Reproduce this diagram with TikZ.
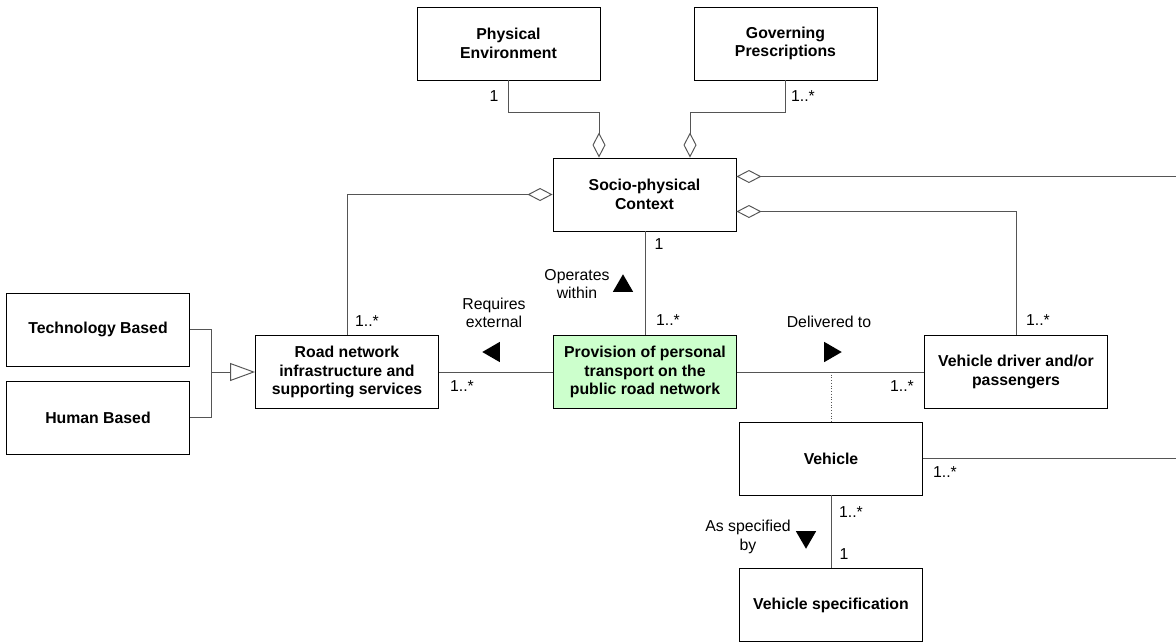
\documentclass[tikz,border=0pt]{standalone}
\usepackage{fontspec}
\setmainfont{Liberation Sans}
\usepackage{xcolor}
\usepackage{tikz}
\usetikzlibrary{shapes, shapes.geometric, arrows.meta, positioning, calc}
\definecolor{provgreen}{RGB}{204, 255, 204}
\definecolor{linegray}{RGB}{85, 85, 85}

\tikzset{
    classbox/.style={draw=black, line width=0.55pt, fill=white, minimum width=3.66cm, minimum height=1.46cm, align=center, inner sep=2pt, font=\fontsize{9}{10.6}\selectfont\bfseries},
    mult/.style={inner sep=1pt, font=\fontsize{9}{10.6}\selectfont},
    rolename/.style={align=center, inner sep=1pt, font=\fontsize{9}{10.4}\selectfont},
    dirmark/.style={regular polygon, regular polygon sides=3, fill=black, minimum size=0.47cm, inner sep=0pt},
    conn/.style={draw=linegray, line width=0.55pt},
    aggr/.style={conn, -{Diamond[length=0.5cm, width=0.26cm, fill=white]}},
    genl/.style={conn, -{Triangle[length=0.5cm, width=0.36cm, fill=white]}}
}

\begin{document}
\begin{tikzpicture}[x=0.02cm, y=-0.02cm]
        \path[use as bounding box, fill=white] (0,0) rectangle (1176,643);

        % Context Boxes
        \node[classbox] (phys) at (508.5,43.5) {Physical\\Environment};
        \node[classbox] (gov) at (785.5,43.5) {Governing\\Prescriptions};
        \node[classbox] (socio) at (644.5,194.5) {Socio-physical\\Context};

        % Infrastructure Boxes
        \node[classbox] (tech) at (98,329.5) {Technology Based};
        \node[classbox] (human) at (98,417.5) {Human Based};
        \node[classbox] (road) at (347,372) {Road network\\infrastructure and\\supporting services};

        % Provision Box
        \node[classbox, fill=provgreen] (prov) at (645,372) {Provision of personal\\transport on the\\public road network};

        % User and Vehicle Boxes
        \node[classbox] (driver) at (1016,372) {Vehicle driver and/or\\passengers};
        \node[classbox] (vehicle) at (831,458.5) {Vehicle};
        \node[classbox] (spec) at (831,605) {Vehicle specification};

        % Aggregations
        \draw[aggr] (phys.south) -- ++(0,32) -| ($(socio.north)+(-45.5,0)$);
        \draw[aggr] (gov.south) -- ++(0,32) -| ($(socio.north)+(45.5,0)$);
        \draw[aggr] (road.north) |- (socio.west);
        \coordinate (edgetop) at (1176,176.5);
        \draw[aggr] (edgetop) -- (edgetop -| socio.east);
        \draw[aggr] (driver.north) |- ($(socio.east)+(0,17)$);

        % Associations
        \draw[conn] (prov.north) -- (prov.north |- socio.south);
        \draw[conn] (road.east) -- (prov.west);
        \draw[conn] (prov.east) -- (driver.west);
        \coordinate (assoc) at (vehicle.north |- prov.east);
        \draw[conn, densely dotted] (assoc) -- (vehicle.north);
        \coordinate (edgemid) at (1176,458.5);
        \draw[conn] (vehicle.east) -- (edgemid);
        \draw[conn] (vehicle.south) -- (spec.north);

        % Generalization
        \coordinate (genjoin) at (211,372);
        \draw[conn] (tech.east) -| (genjoin);
        \draw[conn] (human.east) -| (genjoin);
        \draw[genl] (genjoin) -- (road.west);

        % Multiplicities
        \node[mult] (m1) at (494,96) {1};
        \node[mult] (m2) at (803,96) {1..*};
        \node[mult] (m3) at (659,244) {1};
        \node[mult] (m4) at (668,320) {1..*};
        \node[mult] (m5) at (367,321) {1..*};
        \node[mult] (m6) at (462,386) {1..*};
        \node[mult] (m7) at (902,386) {1..*};
        \node[mult] (m8) at (1038,320) {1..*};
        \node[mult] (m9) at (945,472) {1..*};
        \node[mult] (m10) at (851,512) {1..*};
        \node[mult] (m11) at (844,554) {1};

        % Role names and reading directions
        \node[rolename] (requires) at (494,313) {Requires\\external};
        \node[dirmark, shape border rotate=90] (reqdir) at (494,352) {};
        \node[rolename] (operates) at (577,284) {Operates\\within};
        \node[dirmark] (opdir) at (623,286) {};
        \node[rolename] (delivered) at (829,322) {Delivered to};
        \node[dirmark, shape border rotate=-90] (deldir) at (830,352) {};
        \node[rolename] (specified) at (748,537) {As specified\\by};
        \node[dirmark, shape border rotate=180] (specdir) at (806,537) {};
\end{tikzpicture}
\end{document}
